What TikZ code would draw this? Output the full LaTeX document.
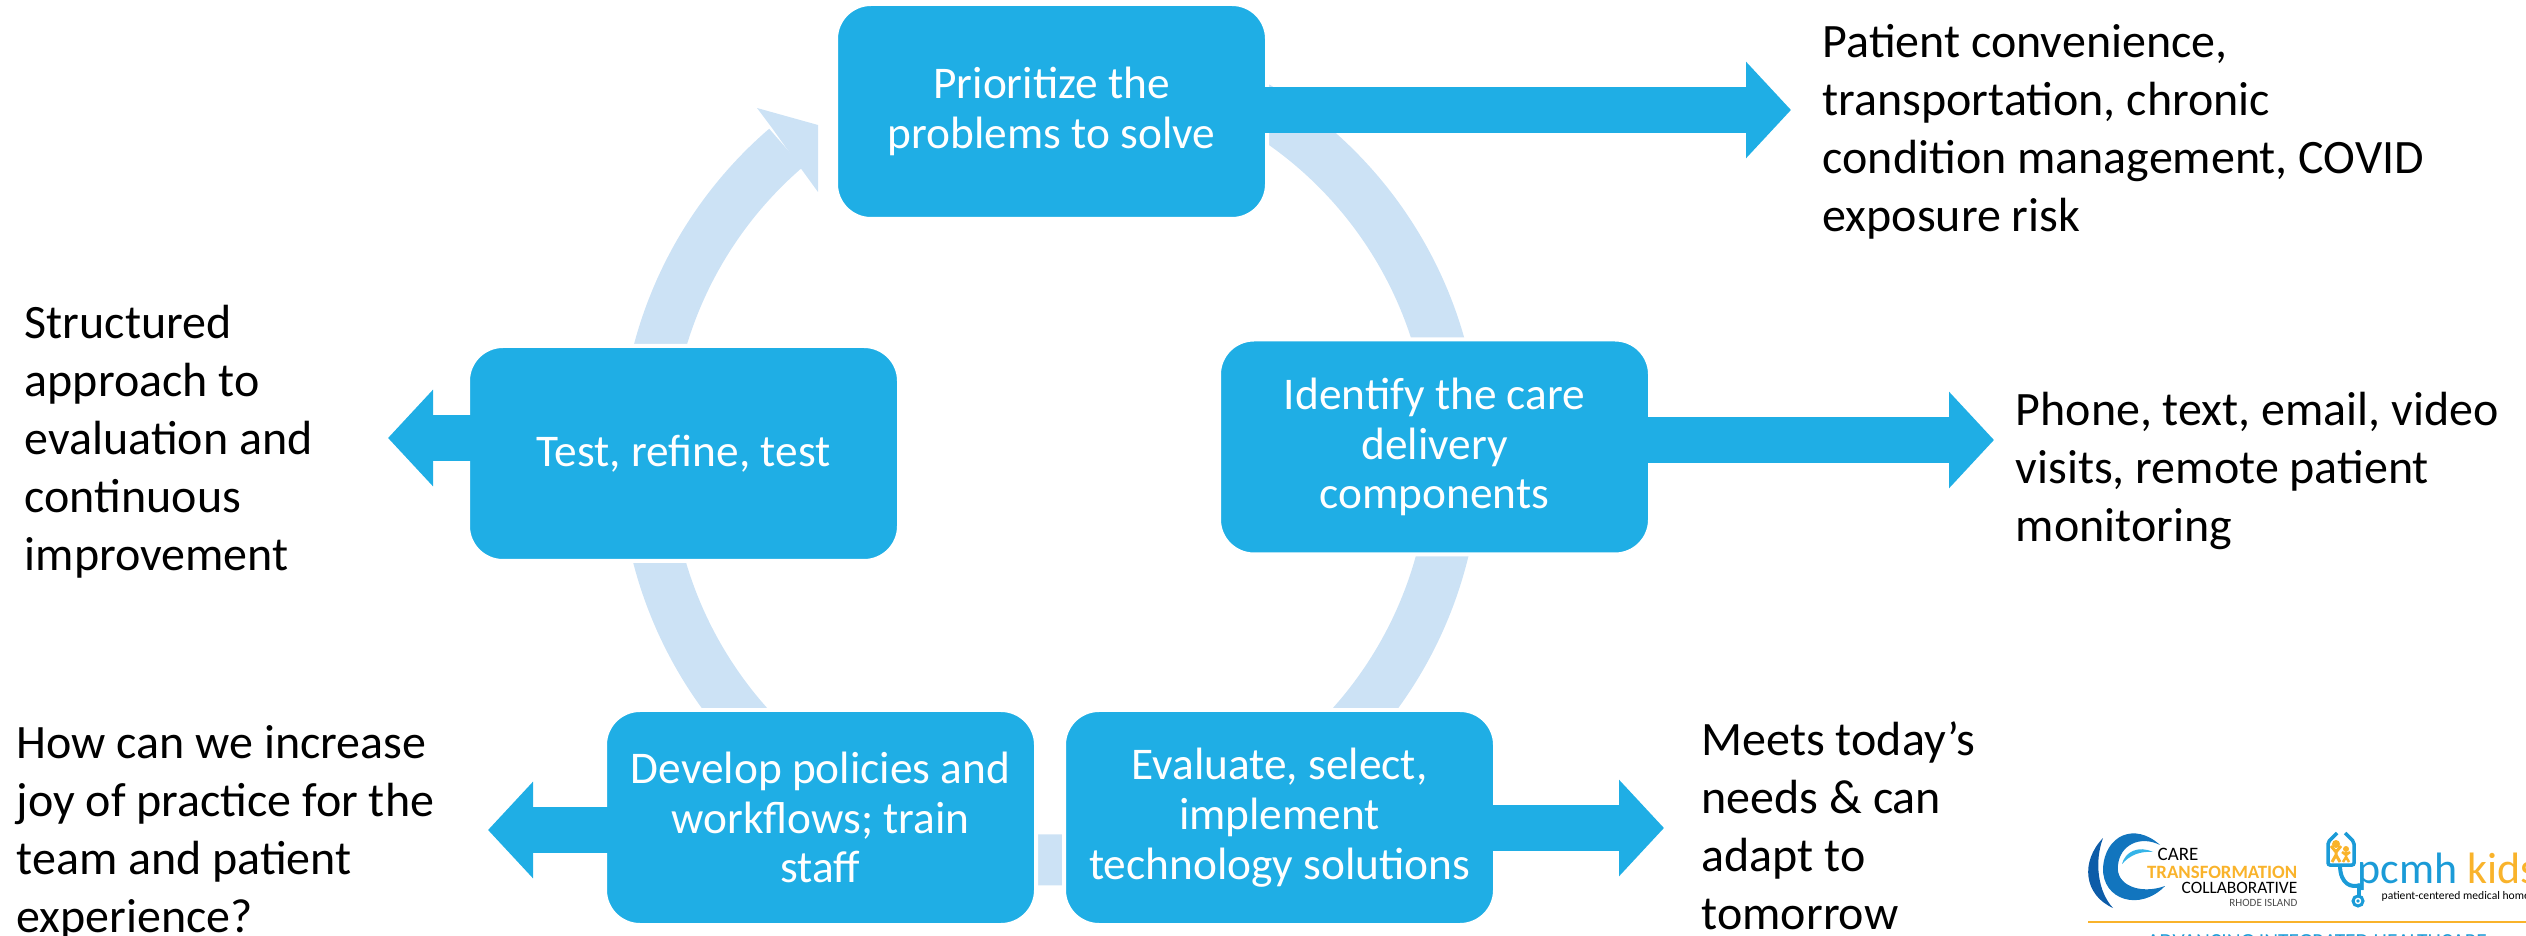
\documentclass[tikz,border=0pt]{standalone}
\usepackage{fontspec}
\setmainfont{Carlito}
\usepackage{tikz}
\usetikzlibrary{arrows.meta}
\definecolor{boxblue}{HTML}{1FAEE5}
\definecolor{ringblue}{HTML}{CCE2F5}
\definecolor{logoorange}{HTML}{F9B32B}
\definecolor{logoblue}{HTML}{1B9BD7}
\definecolor{logomid}{HTML}{1275BE}
\definecolor{logodark}{HTML}{0D5CA8}
\definecolor{logolight}{HTML}{35B4E8}

\begin{document}
\begin{tikzpicture}[
    step box/.style={draw=white, line width=.04cm, fill=boxblue, rounded corners=.35cm, outer sep=0pt,
        minimum width=4.31cm, minimum height=2.15cm, align=center, text=white,
        font=\fontsize{12.9}{14.2}\selectfont},
    note/.style={align=left, anchor=west, inner sep=0pt, font=\fontsize{13.65}{16.5}\selectfont},
    ring/.style={draw=ringblue, line width=.51cm},
    big arrow/.style={draw=boxblue, line width=.46cm, shorten <=-.03cm, -{Triangle[length=.45cm,width=.94cm]}},
    logo text/.style={inner sep=0pt, anchor=east}
    ]
\useasboundingbox (0,0) rectangle (25.26,-9.36);
\coordinate (ctr) at (10.5,-4.55);

% ring behind the boxes
\draw[ring] ([shift={(170:4.05)}]ctr) arc (170:130.7:4.05);
\fill[ringblue] (7.72,-1.28) -- (7.57,-1.08) -- (8.18,-1.25) -- (8.18,-1.92) -- (8.02,-1.70) -- cycle;
\draw[ring] ([shift={(60:4.05)}]ctr) arc (60:10:4.05);
\draw[ring] ([shift={(350:4.05)}]ctr) arc (350:305:4.05);
\draw[ring] ([shift={(275:4.05)}]ctr) arc (275:265:4.05);
\draw[ring] ([shift={(235:4.05)}]ctr) arc (235:190:4.05);

\node[step box] (prob) at (10.515,-1.115) {Prioritize the\\problems to solve};
\node[step box] (ident) at (14.345,-4.47) {Identify the care\\delivery\\components};
\node[step box] (eval) at (12.795,-8.175) {Evaluate, select,\\implement\\technology solutions};
\node[step box] (dev) at (8.205,-8.175) {Develop policies and\\workflows; train\\staff};
\node[step box] (test) at (6.835,-4.535) {Test, refine, test};

\coordinate (probend) at (17.91,-1.10);
\coordinate (identend) at (19.94,-4.40);
\coordinate (evalend) at (16.64,-8.28);
\coordinate (devend) at (4.88,-8.30);
\coordinate (testend) at (3.88,-4.38);
\draw[big arrow] (prob.east |- probend) -- (probend);
\draw[big arrow] (ident.east |- identend) -- (identend);
\draw[big arrow] (eval.east |- evalend) -- (evalend);
\draw[big arrow] (dev.west |- devend) -- (devend);
\draw[big arrow] (test.west |- testend) -- (testend);

\node[note] (probnote) at (18.22,-1.32) {Patient convenience,\\transportation, chronic\\condition management, COVID\\exposure risk};
\node[note] (identnote) at (20.15,-4.71) {Phone, text, email, video\\visits, remote patient\\monitoring};
\node[note] (evalnote) at (17.01,-8.26) {Meets today’s\\needs \& can\\adapt to\\tomorrow};
\node[note] (devnote) at (.16,-8.33) {How can we increase\\joy of practice for the\\team and patient\\experience?};
\node[note] (testnote) at (.24,-4.42) {Structured\\approach to\\evaluation and\\continuous\\improvement};

% care transformation logo
\fill[logodark] (21.03,-8.38) .. controls (20.80,-8.62) and (20.84,-8.95) .. (21.13,-9.08) .. controls (20.98,-8.92) and (20.94,-8.62) .. cycle;
\fill[logomid] (21.60,-8.45) .. controls (21.35,-8.22) and (21.05,-8.35) .. (21.03,-8.68) .. controls (21.02,-9.00) and (21.40,-9.12) .. (21.65,-8.86) .. controls (21.40,-8.95) and (21.15,-8.85) .. (21.18,-8.65) .. controls (21.20,-8.45) and (21.40,-8.35) .. cycle;
\fill[logolight] (21.53,-8.52) .. controls (21.38,-8.45) and (21.25,-8.52) .. (21.22,-8.64) .. controls (21.30,-8.55) and (21.40,-8.51) .. cycle;
\node[logo text, font=\fontsize{5.4}{6}\selectfont] (care) at (21.99,-8.54) {CARE};
\node[logo text, text=logoorange, font=\fontsize{5.35}{6}\bfseries\selectfont] (transf) at (22.98,-8.72) {TRANSFORMATION};
\node[logo text, font=\fontsize{4.95}{6}\selectfont] (collab) at (22.98,-8.88) {COLLABORATIVE};
\node[logo text, text=black!70, font=\fontsize{3.15}{4}\selectfont] (rhode) at (22.98,-9.03) {RHODE ISLAND};

% pcmh kids logo
\draw[logoblue, line width=.035cm, rounded corners=.02cm] (23.37,-8.33) -- (23.28,-8.42) -- (23.28,-8.65) -- (23.54,-8.65) -- (23.54,-8.42) -- (23.45,-8.33);
\fill[logoorange] (23.36,-8.44) circle (.04) (23.46,-8.49) circle (.03);
\draw[logoorange, line width=.03cm] (23.31,-8.46) -- (23.36,-8.52) -- (23.41,-8.46) (23.36,-8.49) -- (23.36,-8.55) (23.32,-8.62) -- (23.36,-8.55) -- (23.40,-8.62);
\draw[logoorange, line width=.025cm] (23.42,-8.52) -- (23.46,-8.55) -- (23.50,-8.52) (23.46,-8.52) -- (23.46,-8.57) (23.43,-8.62) -- (23.46,-8.57) -- (23.49,-8.62);
\draw[logoblue, line width=.04cm] (23.40,-8.65) .. controls (23.40,-8.85) and (23.52,-8.88) .. (23.60,-8.85);
\node[inner sep=0pt, anchor=base west, text=logoblue, font=\fontsize{12.5}{13}\selectfont] (pcmh) at (23.57,-8.83) {pcmh};
\draw[logoblue, line width=.04cm] (23.59,-8.85) -- (23.59,-8.97);
\draw[logoblue, line width=.03cm, fill=white] (23.58,-9.01) circle (.05);
\fill[logoblue] (23.58,-9.01) circle (.018);
\node[inner sep=0pt, anchor=base west, text=logoorange, font=\fontsize{12.5}{13}\selectfont] (kids) at (24.67,-8.83) {kids};
\node[inner sep=0pt, anchor=base west, font=\fontsize{3.3}{4}\selectfont] (pcmhsub) at (23.81,-8.99) {patient-centered medical home};

\draw[logoorange, line width=.02cm] (20.88,-9.22) -- (25.26,-9.22);
\node[inner sep=0pt, anchor=north, text=logoblue, font=\fontsize{6.1}{7}\selectfont] (slogan) at (23.17,-9.335) {ADVANCING INTEGRATED HEALTHCARE};
\end{tikzpicture}
\end{document}
